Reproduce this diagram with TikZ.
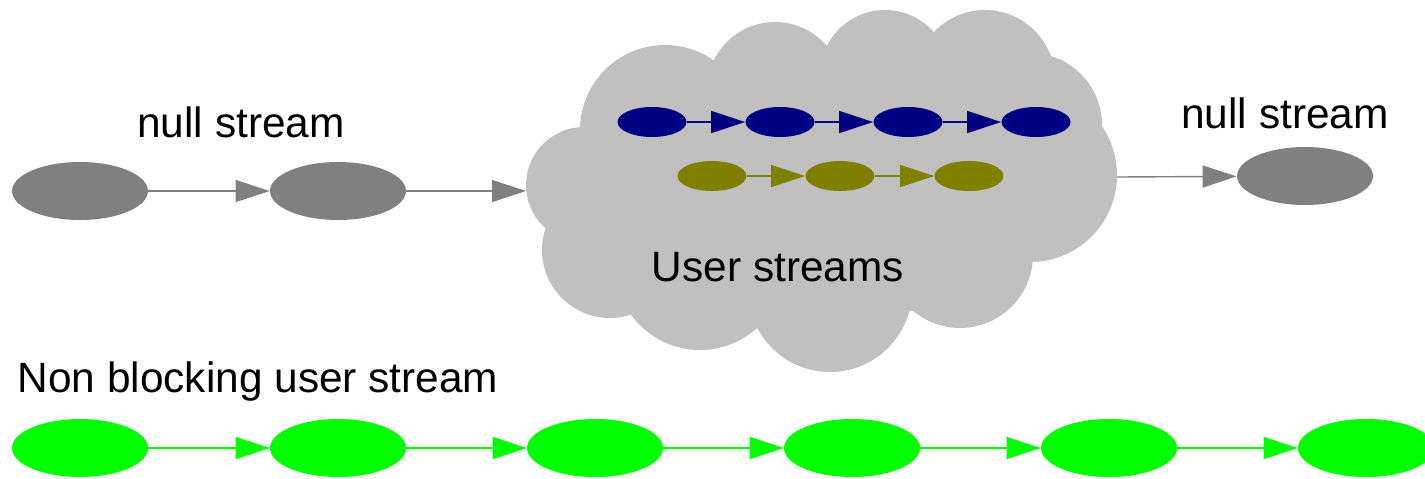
\documentclass[tikz,border=0pt]{standalone}
\usepackage{fontspec}
\setmainfont{Liberation Sans}
\usetikzlibrary{shapes.geometric,arrows.meta}
\definecolor{nullgray}{HTML}{808080}
\definecolor{cloudgray}{HTML}{C0C0C0}
\definecolor{userblue}{HTML}{000080}
\definecolor{userolive}{HTML}{808000}
\definecolor{nbgreen}{HTML}{00FF00}
\begin{document}
\begin{tikzpicture}[x=0.5pt,y=-0.5pt,
  op/.style={ellipse,fill=#1,inner sep=0pt,minimum width=68pt,minimum height=29pt},
  smallop/.style={ellipse,fill=#1,inner sep=0pt,minimum width=34.5pt,minimum height=15pt},
  link/.style={draw=#1,line width=0.7pt,-{Triangle[length=17pt,width=11pt,fill=#1]}},
  lbl/.style={font=\fontsize{21.2}{25}\selectfont,anchor=base,inner sep=0pt}]
\useasboundingbox (0,0) rectangle (1425,478);

\fill[cloudgray] (584,185) circle (58) (665,130) circle (85) (775,90) circle (68)
  (885,75) circle (65) (985,80) circle (70) (1030,125) circle (72)
  (1030,175) circle (87) (960,255) circle (73) (830,290) circle (82)
  (700,265) circle (85) (610,250) circle (68) (820,190) ellipse (250 and 130);
\coordinate (cin) at (526,191);
\coordinate (cout) at (1117,177);

\node[lbl] (t1) at (241,137) {null stream};
\node[lbl] (t2) at (1285,128) {null stream};
\node[lbl] (t3) at (778,281) {User streams};
\node[lbl] (t4) at (258,392) {Non blocking user stream};

\node[op=nullgray] (g1) at (80,191) {};
\node[op=nullgray] (g2) at (338,191) {};
\node[op=nullgray] (g3) at (1305,176) {};

\node[smallop=userblue] (b1) at (652,122) {};
\node[smallop=userblue] (b2) at (780,122) {};
\node[smallop=userblue] (b3) at (908,122) {};
\node[smallop=userblue] (b4) at (1036,122) {};

\node[smallop=userolive] (o1) at (712,176) {};
\node[smallop=userolive] (o2) at (840,176) {};
\node[smallop=userolive] (o3) at (969,176) {};

\node[op=nbgreen] (e1) at (80,448) {};
\node[op=nbgreen] (e2) at (338,448) {};
\node[op=nbgreen] (e3) at (595,448) {};
\node[op=nbgreen] (e4) at (852,448) {};
\node[op=nbgreen] (e5) at (1109,448) {};
\node[op=nbgreen] (e6) at (1366,448) {};

\draw[link=nullgray] (g1) -- (g2);
\draw[link=nullgray] (g2) -- (cin);
\draw[link=nullgray] (cout) -- (g3);
\draw[link=userblue] (b1) -- (b2);
\draw[link=userblue] (b2) -- (b3);
\draw[link=userblue] (b3) -- (b4);
\draw[link=userolive] (o1) -- (o2);
\draw[link=userolive] (o2) -- (o3);
\draw[link=nbgreen] (e1) -- (e2);
\draw[link=nbgreen] (e2) -- (e3);
\draw[link=nbgreen] (e3) -- (e4);
\draw[link=nbgreen] (e4) -- (e5);
\draw[link=nbgreen] (e5) -- (e6);
\end{tikzpicture}
\end{document}
